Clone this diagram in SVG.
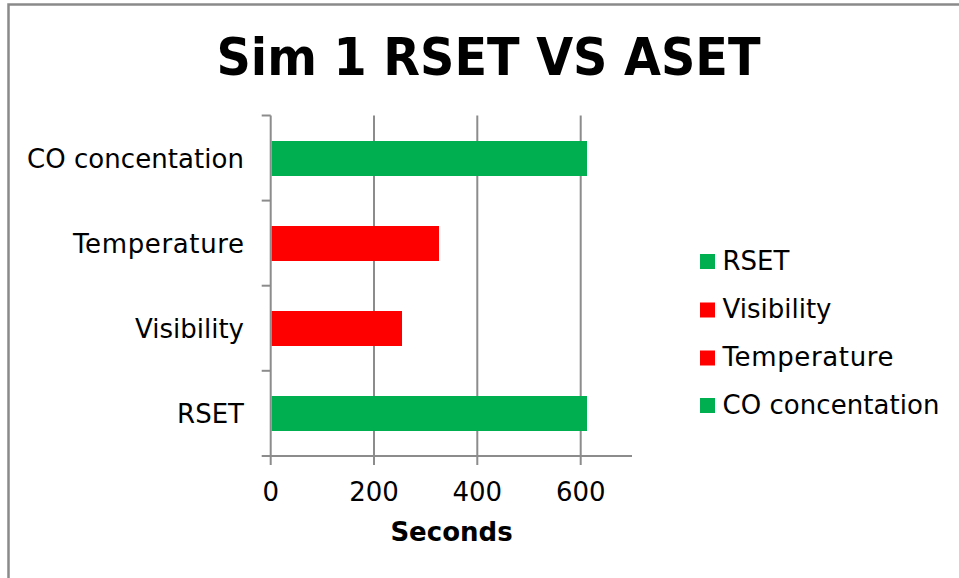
<svg xmlns="http://www.w3.org/2000/svg" width="959" height="578" viewBox="0 0 959 578">
<style>
.lbl{font-family:"DejaVu Sans","Liberation Sans",sans-serif;font-size:26px;fill:#000}
.axis{stroke:#8c8c8c;stroke-width:2;fill:none}
.grid{stroke:#8c8c8c;stroke-width:2}
.green{fill:#00b050}
.red{fill:#ff0000}
</style>
<rect x="0" y="0" width="959" height="578" fill="#ffffff"/>
<path d="M8.5,578 V4.5 H959" fill="none" stroke="#8a8a8a" stroke-width="2.5"/>
<g id="title">
<text x="488.5" y="75" text-anchor="middle" font-family="DejaVu Sans,'Liberation Sans',sans-serif" font-weight="bold" font-size="52" textLength="544" lengthAdjust="spacingAndGlyphs">Sim 1 RSET VS ASET</text>
</g>
<g id="gridlines">
<line class="grid" x1="374" y1="115.5" x2="374" y2="465"/>
<line class="grid" x1="477.3" y1="115.5" x2="477.3" y2="465"/>
<line class="grid" x1="580.7" y1="115.5" x2="580.7" y2="465"/>
</g>
<g id="axes">
<line class="axis" x1="270.7" y1="115.5" x2="270.7" y2="465"/>
<line class="axis" x1="261.7" y1="456" x2="632" y2="456"/>
<line class="axis" x1="261.7" y1="115.5" x2="270.7" y2="115.5"/>
<line class="axis" x1="261.7" y1="200.6" x2="270.7" y2="200.6"/>
<line class="axis" x1="261.7" y1="285.7" x2="270.7" y2="285.7"/>
<line class="axis" x1="261.7" y1="370.8" x2="270.7" y2="370.8"/>
</g>
<g id="bar-co">
<rect class="green" x="271.7" y="141" width="315.3" height="35"/>
</g>
<g id="bar-temperature">
<rect class="red" x="271.7" y="226" width="167.3" height="35"/>
</g>
<g id="bar-visibility">
<rect class="red" x="271.7" y="311" width="130.3" height="35"/>
</g>
<g id="bar-rset">
<rect class="green" x="271.7" y="396" width="315.3" height="35"/>
</g>
<g id="y-labels">
<text class="lbl" x="244" y="168" text-anchor="end" textLength="217">CO concentation</text>
<text class="lbl" x="244" y="253" text-anchor="end" textLength="171">Temperature</text>
<text class="lbl" x="244" y="338" text-anchor="end" textLength="109">Visibility</text>
<text class="lbl" x="244" y="423" text-anchor="end">RSET</text>
</g>
<g id="x-labels">
<text class="lbl" x="270.7" y="501" text-anchor="middle">0</text>
<text class="lbl" x="374" y="501" text-anchor="middle">200</text>
<text class="lbl" x="477.3" y="501" text-anchor="middle">400</text>
<text class="lbl" x="580.7" y="501" text-anchor="middle">600</text>
<text class="lbl" x="451.5" y="540.5" text-anchor="middle" font-weight="bold">Seconds</text>
</g>
<g id="legend">
<rect class="green" x="700" y="254" width="15" height="15"/>
<text class="lbl" x="722.5" y="270">RSET</text>
<rect class="red" x="700" y="302.5" width="15" height="15"/>
<text class="lbl" x="722.5" y="318" textLength="109">Visibility</text>
<rect class="red" x="700" y="350.5" width="15" height="15"/>
<text class="lbl" x="722.5" y="366" textLength="171">Temperature</text>
<rect class="green" x="700" y="398" width="15" height="15"/>
<text class="lbl" x="722.5" y="414" textLength="217">CO concentation</text>
</g>
</svg>
